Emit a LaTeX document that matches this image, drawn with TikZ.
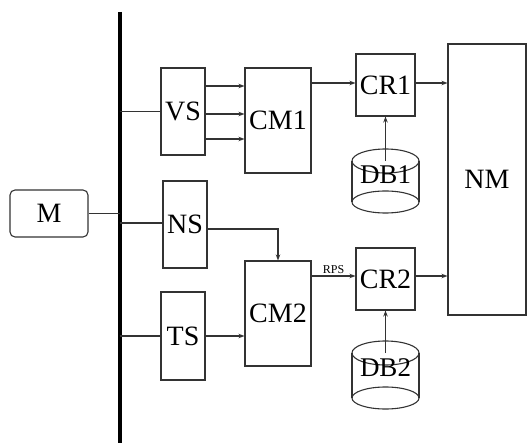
\documentclass[tikz,border=0pt]{standalone}
\usepackage{fontspec}
\setmainfont{Liberation Serif}
\usetikzlibrary{arrows.meta}
\begin{document}
\begin{tikzpicture}[x=1pt,y=-1pt,
  ln/.style={draw=black!80, line width=1.1pt},
  box/.style={ln, rectangle, inner sep=0pt, font=\fontsize{28}{30}\selectfont},
  arr/.style={ln, -{Stealth[length=6pt,width=4.5pt]}},
  dbtext/.style={inner sep=0pt, font=\fontsize{27}{29}\selectfont},
]
\useasboundingbox (0,0) rectangle (527,443);
% bus
\coordinate (bt) at (119.5,12);
\coordinate (bb) at (119.5,443);
\draw[line width=4pt, black] (bt) -- (bb);
% boxes
\node[box, rounded corners=5pt, minimum width=78pt, minimum height=47pt] (M) at (49,213.5) {M};
\node[box, minimum width=44pt, minimum height=87pt] (VS) at (183,111.5) {VS};
\node[box, minimum width=44pt, minimum height=87pt] (NS) at (185,224.5) {NS};
\node[box, minimum width=44pt, minimum height=88pt] (TS) at (183,336) {TS};
\node[box, minimum width=66pt, minimum height=105pt] (CM1) at (278,120.5) {CM1};
\node[box, minimum width=66pt, minimum height=105pt] (CM2) at (278,313.5) {CM2};
\node[box, minimum width=59pt, minimum height=62pt] (CR1) at (385.5,85) {CR1};
\node[box, minimum width=59pt, minimum height=62pt] (CR2) at (385.5,279) {CR2};
\node[box, minimum width=78pt, minimum height=271pt] (NM) at (487,179.5) {NM};
% cylinders
\draw[ln] (385.5,161) ellipse [x radius=33.5, y radius=12];
\draw[ln] (352,161) -- (352,202) (419,161) -- (419,202);
\draw[ln] (385.5,202) ellipse [x radius=33.5, y radius=11];
\node[dbtext] (DB1) at (385.5,175) {DB1};
\coordinate (db1t) at (385.5,161);
\draw[ln] (385.5,353) ellipse [x radius=33.5, y radius=12];
\draw[ln] (352,353) -- (352,398) (419,353) -- (419,398);
\draw[ln] (385.5,398) ellipse [x radius=33.5, y radius=11];
\node[dbtext] (DB2) at (385.5,368) {DB2};
\coordinate (db2t) at (385.5,353);
% bus connections
\draw[ln] (M.east) -- (M.east -| bt);
\draw[ln] (VS.west -| bt) -- (VS.west);
\draw[ln] ([yshift=1.5pt]NS.west -| bt) -- ([yshift=1.5pt]NS.west);
\draw[ln] (TS.west -| bt) -- (TS.west);
% VS -> CM1
\draw[arr] ([yshift=25.5pt]VS.east) -- ([yshift=25.5pt]VS.east -| CM1.west);
\draw[arr] ([yshift=-2.5pt]VS.east) -- ([yshift=-2.5pt]VS.east -| CM1.west);
\draw[arr] ([yshift=-27.5pt]VS.east) -- ([yshift=-27.5pt]VS.east -| CM1.west);
% CM1 -> CR1 -> NM
\draw[arr] ([yshift=2pt]CR1.west -| CM1.east) -- ([yshift=2pt]CR1.west);
\draw[arr] ([yshift=2pt]CR1.east) -- ([yshift=2pt]CR1.east -| NM.west);
% NS -> CM2, TS -> CM2
\draw[arr] ([yshift=-4.5pt]NS.east) -| (CM2.north);
\draw[arr] (TS.east) -- (TS.east -| CM2.west);
% CM2 -> CR2 -> NM
\draw[arr] ([yshift=3pt]CR2.west -| CM2.east) -- node[above, inner sep=1.5pt, font=\fontsize{12}{13}\selectfont] (RPS) {RPS} ([yshift=3pt]CR2.west);
\draw[arr] ([yshift=3pt]CR2.east) -- ([yshift=3pt]CR2.east -| NM.west);
% DB -> CR
\draw[arr] (db1t) -- (CR1.south);
\draw[arr] (db2t) -- (CR2.south);
\end{tikzpicture}
\end{document}
